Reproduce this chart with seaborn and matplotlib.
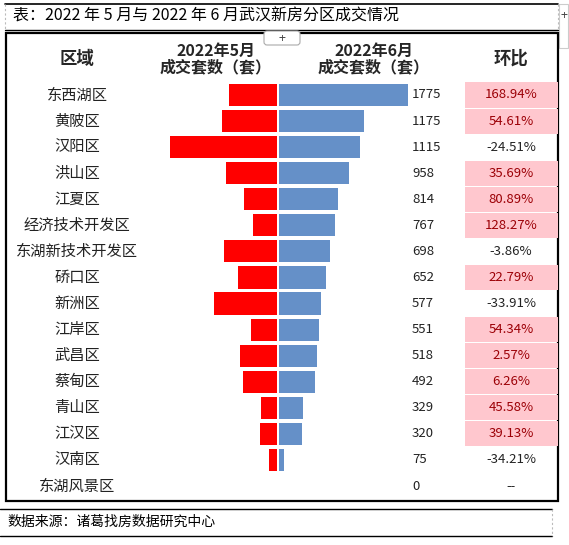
import numpy as np
import pandas as pd
import matplotlib
matplotlib.use('Agg')
import matplotlib.pyplot as plt
import seaborn as sns
from matplotlib.patches import Rectangle, FancyBboxPatch

# data (May values estimated from bar lengths / 环比)
districts = ['东西湖区', '黄陂区', '汉阳区', '洪山区', '江夏区', '经济技术开发区',
             '东湖新技术开发区', '硚口区', '新洲区', '江岸区', '武昌区', '蔡甸区',
             '青山区', '江汉区', '汉南区', '东湖风景区']
may_sales = [660, 760, 1477, 706, 450, 336, 726, 531, 873, 357, 505, 463, 226, 230, 114, 0]
june_sales = [1775, 1175, 1115, 958, 814, 767, 698, 652, 577, 551, 518, 492, 329, 320, 75, 0]
mom_pct = [168.94, 54.61, -24.51, 35.69, 80.89, 128.27, -3.86, 22.79, -33.91,
           54.34, 2.57, 6.26, 45.58, 39.13, -34.21, None]

title = '表：2022 年 5 月与 2022 年 6 月武汉新房分区成交情况'
source = '数据来源：诸葛找房数据研究中心'
headers = ['区域', '2022年5月\n成交套数（套）', '2022年6月\n成交套数（套）', '环比']

df = pd.DataFrame({'district': districts, 'may': may_sales, 'june': june_sales})

sns.set_theme(style='white')
plt.rcParams['font.family'] = ['Noto Sans CJK SC', 'DejaVu Sans']

W, H = 569, 545
fig = plt.figure(figsize=(W / 100, H / 100), dpi=100)
fig.patch.set_facecolor('white')

# full-figure axes in pixel units for frames and table text
bg = fig.add_axes([0, 0, 1, 1])
bg.set_xlim(0, W)
bg.set_ylim(H, 0)
bg.axis('off')

row0, pitch = 95, 26.07
n = len(districts)
rows = row0 + pitch * np.arange(n)

# title box
bg.plot([5, 558], [3.5, 3.5], color='black', lw=1.2)
bg.plot([5, 558], [29.5, 29.5], color='black', lw=1.0)
bg.plot([5, 5], [3.5, 29.5], color='#bbbbbb', lw=0.8, ls=(0, (2, 2)))
bg.plot([558, 558], [3.5, 29.5], color='#bbbbbb', lw=0.8, ls=(0, (2, 2)))
bg.text(13, 16, title, fontsize=11.5, va='center', ha='left', color='black')
# little excel handles
bg.add_patch(Rectangle((559, 4), 9, 44, facecolor='white', edgecolor='#cccccc', lw=0.8))
bg.text(563.5, 16, '+', fontsize=9, ha='center', va='center', color='#444444')

# main table frame
bg.add_patch(Rectangle((6.5, 32.5), 551.5, 468.5, fill=False, edgecolor='black', lw=1.6))
bg.add_patch(FancyBboxPatch((264, 31), 36, 14, boxstyle='round,pad=0,rounding_size=3',
                            facecolor='white', edgecolor='#aaaaaa', lw=0.8, zorder=5))
bg.text(282, 38.5, '+', fontsize=9, ha='center', va='center', color='#444444', zorder=6)

# headers
bg.text(77, 59, headers[0], fontsize=12.5, fontweight='bold', ha='center', va='center')
bg.text(216, 59, headers[1], fontsize=11.5, fontweight='bold', ha='center', va='center',
        linespacing=1.0)
bg.text(374, 59, headers[2], fontsize=11.5, fontweight='bold', ha='center', va='center',
        linespacing=1.0)
bg.text(511, 59, headers[3], fontsize=12.5, fontweight='bold', ha='center', va='center')

# body text and 环比 cells
for y, name, jv, pct in zip(rows, districts, june_sales, mom_pct):
    bg.text(77, y, name, fontsize=11, ha='center', va='center', color='#222222')
    bg.text(412, y, str(jv), fontsize=9.5, ha='left', va='center', color='#222222')
    if pct is None:
        bg.text(511, y, '--', fontsize=9.5, ha='center', va='center', color='#222222')
    elif pct > 0:
        bg.add_patch(Rectangle((465, y - pitch / 2 + 0.5), 93, pitch - 1,
                               facecolor='#FFC7CE', edgecolor='none'))
        bg.text(511, y, f'{pct:.2f}%', fontsize=9.5, ha='center', va='center', color='#9C0006')
    else:
        bg.text(511, y, f'{pct:.2f}%', fontsize=9.5, ha='center', va='center', color='#222222')

# footer box
bg.plot([0, 552], [508.5, 508.5], color='black', lw=1.0)
bg.plot([0, 552], [535.5, 535.5], color='black', lw=1.0)
bg.plot([552, 552], [508.5, 535.5], color='#bbbbbb', lw=0.8, ls=(0, (2, 2)))
bg.text(7, 522, source, fontsize=10, ha='left', va='center', color='black')

# bar axes, same vertical range as the rows
top_px = row0 - pitch / 2
bot_px = rows[-1] + pitch / 2
ax_b = (H - bot_px) / H
ax_h = (bot_px - top_px) / H
units_per_px = 13.76
may_max, june_max = 1650, 1900
may_w = may_max / units_per_px
june_w = june_max / units_per_px

ax_may = fig.add_axes([(277 - may_w) / W, ax_b, may_w / W, ax_h])
ax_june = fig.add_axes([279 / W, ax_b, june_w / W, ax_h])

sns.barplot(data=df, x='may', y='district', ax=ax_may, color='#FF0000', orient='h',
            width=0.85, saturation=1, linewidth=0)
sns.barplot(data=df, x='june', y='district', ax=ax_june, color='#6590C8', orient='h',
            width=0.85, saturation=1, linewidth=0)

ax_may.set_xlim(may_max, 0)
ax_june.set_xlim(0, june_max)
for ax in (ax_may, ax_june):
    ax.set_ylim(n - 0.5, -0.5)
    ax.set_facecolor('none')
    ax.axis('off')

fig.savefig('out.png', dpi=100, facecolor='white')
